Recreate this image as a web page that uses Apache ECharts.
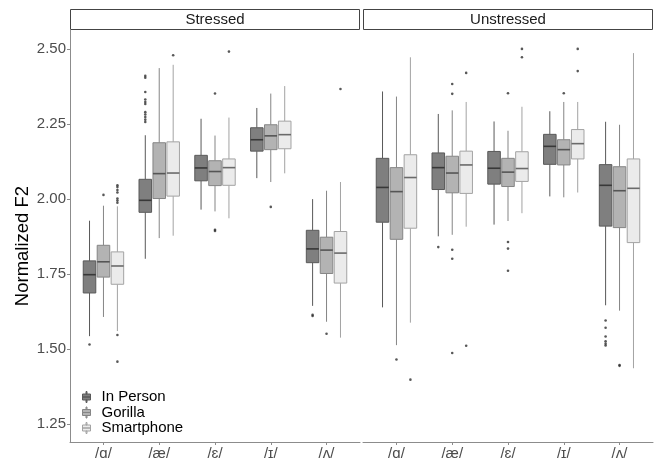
<!DOCTYPE html>
<html>
<head>
<meta charset="utf-8">
<script src="https://cdn.jsdelivr.net/npm/echarts@6/dist/echarts.min.js"></script>
<style>
  html, body { margin: 0; padding: 0; background: #ffffff; }
  #chart { width: 661px; height: 461px; }
</style>
</head>
<body>
<div id="chart"></div>
<script>
// Vowel categories and recording conditions
const vowels = ['/ɑ/', '/æ/', '/ɛ/', '/ɪ/', '/ʌ/'];
const conditions = ['In Person', 'Gorilla', 'Smartphone'];
const yTicks = [1.25, 1.50, 1.75, 2.00, 2.25, 2.50];
const panels = ['Stressed', 'Unstressed'];

// Five-number summaries per vowel: [lower whisker, Q1, median, Q3, upper whisker]
const stressedInPerson = [
  [1.543, 1.687, 1.748, 1.794, 1.928],
  [1.801, 1.956, 1.996, 2.066, 2.213],
  [1.965, 2.061, 2.104, 2.146, 2.268],
  [2.070, 2.160, 2.198, 2.238, 2.304],
  [1.644, 1.788, 1.834, 1.896, 2.000]
];
const stressedGorilla = [
  [1.607, 1.740, 1.791, 1.846, 1.978],
  [1.870, 2.002, 2.085, 2.188, 2.437],
  [1.959, 2.045, 2.092, 2.128, 2.212],
  [2.057, 2.165, 2.211, 2.248, 2.352],
  [1.591, 1.752, 1.830, 1.873, 2.028]
];
const stressedSmartphone = [
  [1.560, 1.716, 1.777, 1.824, 1.976],
  [1.878, 2.010, 2.087, 2.191, 2.448],
  [1.936, 2.046, 2.105, 2.134, 2.272],
  [2.086, 2.168, 2.215, 2.260, 2.377],
  [1.538, 1.720, 1.820, 1.892, 2.057]
];
const unstressedInPerson = [
  [1.639, 1.923, 2.039, 2.136, 2.359],
  [1.876, 2.032, 2.105, 2.154, 2.284],
  [1.915, 2.050, 2.103, 2.159, 2.259],
  [2.009, 2.116, 2.176, 2.216, 2.293],
  [1.646, 1.910, 2.046, 2.115, 2.258]
];
const unstressedGorilla = [
  [1.513, 1.866, 2.025, 2.105, 2.342],
  [1.881, 2.021, 2.087, 2.143, 2.296],
  [1.927, 2.042, 2.090, 2.136, 2.228],
  [2.006, 2.114, 2.165, 2.198, 2.324],
  [1.628, 1.905, 2.028, 2.108, 2.248]
];
const unstressedSmartphone = [
  [1.588, 1.903, 2.072, 2.148, 2.473],
  [1.908, 2.019, 2.114, 2.160, 2.324],
  [1.953, 2.059, 2.102, 2.158, 2.308],
  [2.022, 2.134, 2.185, 2.232, 2.324],
  [1.436, 1.855, 2.036, 2.134, 2.487]
];

// Outlying observations per vowel
const stressedInPersonOutliers = [
  [1.515],
  [2.411, 2.405, 2.357, 2.332, 2.324, 2.317, 2.290, 2.282, 2.274, 2.265, 2.257],
  [], [], [1.614, 1.610]
];
const stressedGorillaOutliers = [[2.014], [], [2.352, 1.898, 1.894], [1.974], [1.551]];
const stressedSmartphoneOutliers = [
  [2.046, 2.040, 2.030, 2.022, 2.002, 1.995, 1.988, 1.547, 1.458],
  [2.480], [2.492], [], [2.367]
];
const unstressedInPersonOutliers = [[], [1.840], [], [], [1.595, 1.571, 1.542, 1.526, 1.518, 1.512]];
const unstressedGorillaOutliers = [
  [1.465], [2.384, 2.351, 1.831, 1.801, 1.487], [2.353, 1.857, 1.835, 1.761], [2.353], [1.447, 1.444]
];
const unstressedSmartphoneOutliers = [[1.398], [2.421, 1.511], [2.501, 2.473], [2.501, 2.427], []];

// Styling per condition
const fills = ['#7f7f7f', '#b3b3b3', '#ebebeb'];
const borders = ['#595959', '#858585', '#a3a3a3'];
const medians = ['#383838', '#555555', '#6a6a6a'];
const dodge = [-0.25, 0, 0.25];
const boxWidth = 0.225;
const FONT = '"Liberation Sans", Arial, sans-serif';

const boxSets = [
  [stressedInPerson, stressedGorilla, stressedSmartphone],
  [unstressedInPerson, unstressedGorilla, unstressedSmartphone]
];
const outlierSets = [
  [stressedInPersonOutliers, stressedGorillaOutliers, stressedSmartphoneOutliers],
  [unstressedInPersonOutliers, unstressedGorillaOutliers, unstressedSmartphoneOutliers]
];

function makeRenderer(ci) {
  return function (params, api) {
    const x = api.value(0);
    const lo = api.coord([x, api.value(1)]);
    const q1 = api.coord([x, api.value(2)]);
    const med = api.coord([x, api.value(3)]);
    const q3 = api.coord([x, api.value(4)]);
    const hi = api.coord([x, api.value(5)]);
    const half = api.size([boxWidth, 0])[0] / 2;
    const cx = q1[0];
    return {
      type: 'group',
      children: [
        { type: 'line', shape: { x1: cx, y1: hi[1], x2: cx, y2: q3[1] },
          style: { stroke: borders[ci], lineWidth: 1 } },
        { type: 'line', shape: { x1: cx, y1: q1[1], x2: cx, y2: lo[1] },
          style: { stroke: borders[ci], lineWidth: 1 } },
        { type: 'rect', shape: { x: cx - half, y: q3[1], width: half * 2, height: q1[1] - q3[1] },
          style: { fill: fills[ci], stroke: borders[ci], lineWidth: 1 } },
        { type: 'line', shape: { x1: cx - half, y1: med[1], x2: cx + half, y2: med[1] },
          style: { stroke: medians[ci], lineWidth: 1.6 } }
      ]
    };
  };
}

const series = [];
panels.forEach(function (panel, pi) {
  conditions.forEach(function (cond, ci) {
    const boxData = boxSets[pi][ci].map(function (s, vi) {
      return [vi + 1 + dodge[ci]].concat(s);
    });
    series.push({
      type: 'custom',
      name: cond,
      xAxisIndex: pi,
      yAxisIndex: pi,
      renderItem: makeRenderer(ci),
      encode: { x: 0, y: [1, 2, 3, 4, 5] },
      itemStyle: { color: fills[ci], borderColor: borders[ci] },
      data: boxData,
      silent: true,
      z: 2
    });
    const pts = [];
    outlierSets[pi][ci].forEach(function (vals, vi) {
      vals.forEach(function (v) { pts.push([vi + 1 + dodge[ci], v]); });
    });
    series.push({
      type: 'scatter',
      name: cond + ' outliers',
      xAxisIndex: pi,
      yAxisIndex: pi,
      symbol: 'circle',
      symbolSize: 2.6,
      itemStyle: { color: '#2e2e2e' },
      data: pts,
      silent: true,
      z: 3
    });
  });
});

const gridDefs = [
  { left: 70, top: 30, width: 290, height: 414 },
  { left: 363, top: 30, width: 290, height: 414 }
];

const xAxes = gridDefs.map(function (g, i) {
  return {
    type: 'value', gridIndex: i, min: 0.4, max: 5.6,
    axisLine: { show: true, lineStyle: { color: '#8c8c8c', width: 1 } },
    axisTick: { show: true, length: 3, customValues: [1, 2, 3, 4, 5], lineStyle: { color: '#8c8c8c' } },
    axisLabel: {
      customValues: [1, 2, 3, 4, 5], margin: 4,
      formatter: function (v) { return vowels[Math.round(v) - 1]; },
      fontSize: 15, color: '#4d4d4d', fontFamily: FONT
    },
    splitLine: { show: false }
  };
});

const yAxes = gridDefs.map(function (g, i) {
  return {
    type: 'value', gridIndex: i, min: 1.19, max: 2.564,
    name: i === 0 ? 'Normalized F2' : '',
    nameLocation: 'middle', nameGap: 37,
    nameTextStyle: { fontSize: 18.5, color: '#000000', fontFamily: FONT, padding: [0, 20, 0, 0] },
    axisLine: { show: i === 0, lineStyle: { color: '#8c8c8c', width: 1 } },
    axisTick: { show: i === 0, length: 3, customValues: yTicks, lineStyle: { color: '#8c8c8c' } },
    axisLabel: {
      show: i === 0, customValues: yTicks, margin: 4,
      formatter: function (v) { return v.toFixed(2); },
      fontSize: 15, color: '#4d4d4d', fontFamily: FONT
    },
    splitLine: { show: false }
  };
});

const legendIcon = 'path://M3.5,0h1v2.5h-1z M0,2.5h8v3h-8z M0,5.5h8v3h-8z M3.5,8.5h1v2.5h-1z';

const stripGraphics = [];
panels.forEach(function (panel, pi) {
  const g = gridDefs[pi];
  stripGraphics.push({
    type: 'rect',
    shape: { x: g.left + 0.5, y: 9.5, width: g.width - 1, height: 20 },
    style: { fill: '#ffffff', stroke: '#444444', lineWidth: 1 }
  });
  stripGraphics.push({
    type: 'text',
    x: g.left + g.width / 2, y: 19.5,
    style: {
      text: panel, fontSize: 15, fill: '#1a1a1a', fontFamily: FONT,
      align: 'center', verticalAlign: 'middle'
    }
  });
});

const chart = echarts.init(document.getElementById('chart'), null, { renderer: 'canvas' });
chart.setOption({
  animation: false,
  backgroundColor: '#ffffff',
  grid: gridDefs,
  xAxis: xAxes,
  yAxis: yAxes,
  legend: {
    orient: 'vertical', left: 77, top: 384.5,
    itemWidth: 8, itemHeight: 11, itemGap: 0.5,
    selectedMode: false,
    textStyle: { fontSize: 15, color: '#000000', fontFamily: FONT, lineHeight: 15, padding: [0, 0, 0, 6] },
    data: conditions.map(function (c, ci) {
      return { name: c, icon: legendIcon,
        itemStyle: { color: fills[ci], borderColor: borders[ci], borderWidth: 1 } };
    })
  },
  graphic: stripGraphics,
  series: series
});
</script>
</body>
</html>
